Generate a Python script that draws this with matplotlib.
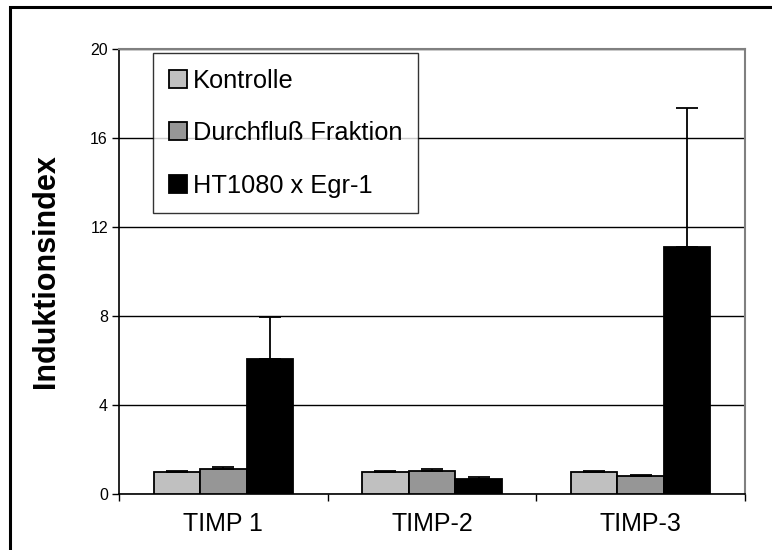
import matplotlib
matplotlib.use("Agg")
import matplotlib.pyplot as pyplot
import matplotlib.patches as patches
import numpy

# Data.
categories = ["TIMP 1", "TIMP-2", "TIMP-3"]
series_names = ["Kontrolle", "Durchfluß Fraktion", "HT1080 x Egr-1"]
kontrolle = [1.0, 1.0, 1.0]
kontrolle_err = [0.03, 0.03, 0.03]
durchfluss = [1.12, 1.02, 0.82]
durchfluss_err = [0.08, 0.1, 0.02]
ht1080 = [6.05, 0.67, 11.1]
ht1080_err = [1.9, 0.09, 6.25]
y_ticks = [0, 4, 8, 12, 16, 20]

pyplot.rcParams["font.family"] = ["Liberation Sans", "DejaVu Sans"]

figure = pyplot.figure(figsize=(7.72, 5.5), dpi=100)
axis = figure.add_axes([119 / 772, 1 - 494 / 550, 626 / 772, 445 / 550])

# Outer chart frame (top and left visible in the reference).
figure.patches.append(patches.Rectangle(
    (10 / 772, -0.1), 1.2, 1 - 7 / 550 + 0.1, transform=figure.transFigure,
    fill=False, edgecolor="black", linewidth=2.2, zorder=0))

x = numpy.arange(len(categories))
width = 0.223
values = [kontrolle, durchfluss, ht1080]
errors = [kontrolle_err, durchfluss_err, ht1080_err]
colors = ["#c0c0c0", "#969696", "#000000"]

for i, (vals, errs, color, name) in enumerate(
        zip(values, errors, colors, series_names)):
    positions = x + (i - 1) * width
    axis.bar(positions, vals, width, color=color, edgecolor="black",
        linewidth=1.3, label=name, zorder=3)
    axis.errorbar(positions, vals, yerr=[numpy.zeros(len(vals)), errs],
        fmt="none", ecolor="black", elinewidth=1.3, capsize=8,
        capthick=1.3, zorder=4)

axis.set_xlim(-0.5, 2.5)
axis.set_ylim(0, 20)
axis.set_yticks(y_ticks)
axis.set_yticklabels([str(t) for t in y_ticks], fontsize=11.5)
axis.tick_params(axis="y", direction="out", length=5, width=1, pad=3)
axis.set_xticks(x)
axis.set_xticklabels(categories, fontsize=18)
axis.tick_params(axis="x", which="major", length=0, pad=13)
axis.set_xticks([-0.5, 0.5, 1.5, 2.5], minor=True)
axis.tick_params(axis="x", which="minor", direction="out", length=5,
    width=1)

axis.yaxis.grid(True, color="black", linewidth=1)
axis.set_axisbelow(True)
for side in ["top", "right"]:
    axis.spines[side].set_color("#808080")
    axis.spines[side].set_linewidth(1.5)
for side in ["left", "bottom"]:
    axis.spines[side].set_color("black")
    axis.spines[side].set_linewidth(1.2)

axis.set_ylabel("Induktionsindex", fontsize=22, fontweight="bold")
axis.yaxis.set_label_coords(-0.093, 0.5)

legend = axis.legend(loc="upper left",
    bbox_to_anchor=(153 / 772, 1 - 53 / 550), bbox_transform=figure.transFigure,
    fontsize=18.3, frameon=True, fancybox=False, edgecolor="black",
    handlelength=0.7, handleheight=0.7, handletextpad=0.25,
    labelspacing=1.12, borderpad=0.62, borderaxespad=0)
legend.get_frame().set_linewidth(1.0)
legend.set_zorder(10)

figure.savefig("out.png", dpi=100, facecolor="white")
